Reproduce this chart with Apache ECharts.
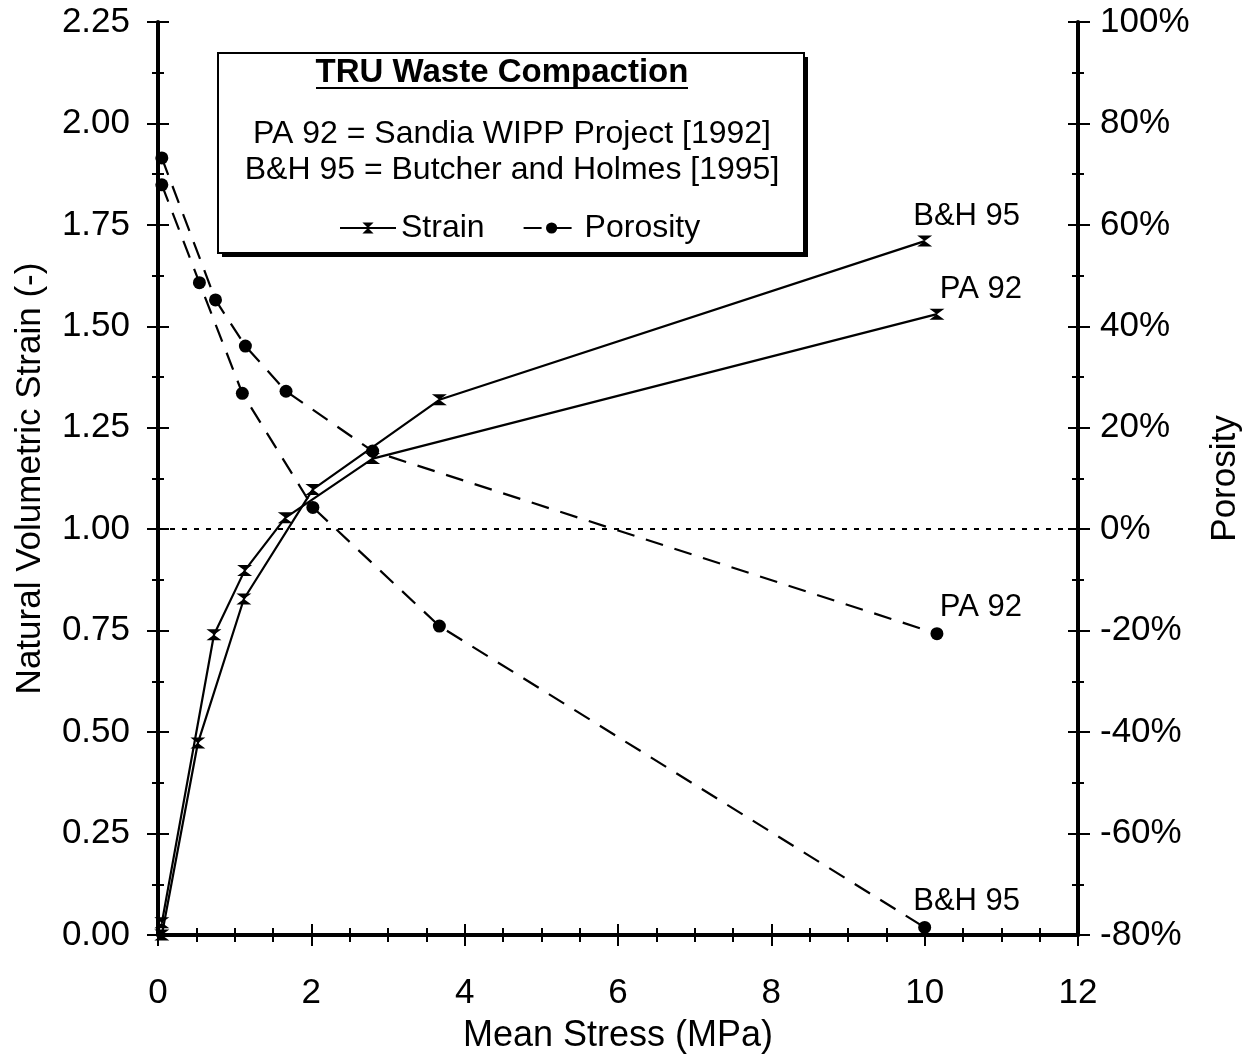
<!DOCTYPE html>
<html>
<head>
<meta charset="utf-8">
<script src="https://cdn.jsdelivr.net/npm/echarts@6/dist/echarts.min.js"></script>
<style>
html,body{margin:0;padding:0;background:#fff;}
#chart{width:1252px;height:1059px;}
</style>
</head>
<body>
<div id="chart"></div>
<script>
// Mean stress (MPa) and values
const strainPA92 = [[0.05, 0.03], [0.73, 0.74], [1.13, 0.898], [1.66, 1.028], [2.80, 1.174], [10.16, 1.53]];
const strainBH95 = [[0.05, 0.00], [0.52, 0.473], [1.12, 0.828], [2.02, 1.098], [3.67, 1.319], [10.0, 1.71]];
const porosityPA92 = [[0.05, 73.2], [0.75, 45.2], [1.14, 36.1], [1.67, 27.2], [2.80, 15.4], [10.16, -20.6]];
const porosityBH95 = [[0.05, 67.9], [0.54, 48.6], [1.10, 26.8], [2.02, 4.3], [3.67, -19.1], [10.0, -78.5]];
const endLabels = { strainPA92: 'PA 92', strainBH95: 'B&H 95', porosityPA92: 'PA 92', porosityBH95: 'B&H 95' };
const zeroPorosityStrain = 1.0;
const legendNames = ['Strain', 'Porosity'];
const boxTitle = 'TRU Waste Compaction';
const boxLines = ['PA 92 = Sandia WIPP Project [1992]', 'B&H 95 = Butcher and Holmes [1995]'];

const FONT = '"Liberation Sans", Arial, Helvetica, sans-serif';
const hourglass = 'path://M0,0 L10,0 L5,5 L10,10 L0,10 L5,5 Z';

function withEndLabel(data, text, offset) {
  return data.map((d, i) => i === data.length - 1 ? {
    value: d,
    label: { show: true, formatter: text, position: 'top', distance: 4, offset: offset,
             fontSize: 31, color: '#000', fontFamily: FONT }
  } : d);
}

const chart = echarts.init(document.getElementById('chart'), null, { renderer: 'canvas' });

const axisLabelStyle = { fontSize: 35, color: '#000', fontFamily: FONT };

const option = {
  animation: false,
  backgroundColor: '#fff',
  grid: { left: 158, right: 174, top: 22, bottom: 122, containLabel: false },
  xAxis: [
    {
      type: 'value', min: 0, max: 12, interval: 2, position: 'bottom',
      name: 'Mean Stress (MPa)', nameLocation: 'middle', nameGap: 83,
      nameTextStyle: { fontSize: 36, color: '#000', fontFamily: FONT },
      axisLine: { show: true, onZero: false, lineStyle: { color: '#000', width: 4 } },
      axisTick: { show: true, inside: false, length: 11, lineStyle: { color: '#000', width: 2 } },
      minorTick: { show: true, splitNumber: 4, length: 7, lineStyle: { color: '#000', width: 2 } },
      axisLabel: Object.assign({ margin: 41 }, axisLabelStyle),
      splitLine: { show: false }
    },
    {
      type: 'value', min: 0, max: 12, interval: 2, position: 'bottom',
      axisLine: { show: false, onZero: false },
      axisTick: { show: true, inside: true, length: 11, lineStyle: { color: '#000', width: 2 } },
      minorTick: { show: true, splitNumber: 4, length: 7, lineStyle: { color: '#000', width: 2 } },
      axisLabel: { show: false }, splitLine: { show: false }
    }
  ],
  yAxis: [
    {
      type: 'value', min: 0, max: 2.25, interval: 0.25, position: 'left',
      name: 'Natural Volumetric Strain (-)', nameLocation: 'middle', nameGap: 110, nameRotate: 90,
      nameTextStyle: { fontSize: 35, color: '#000', fontFamily: FONT },
      axisLine: { show: true, onZero: false, lineStyle: { color: '#000', width: 4 } },
      axisTick: { show: true, inside: false, length: 11, lineStyle: { color: '#000', width: 2 } },
      minorTick: { show: true, splitNumber: 2, length: 6, lineStyle: { color: '#000', width: 2 } },
      axisLabel: Object.assign({ margin: 28, formatter: v => v.toFixed(2) }, axisLabelStyle),
      splitLine: { show: false }
    },
    {
      type: 'value', min: -80, max: 100, interval: 20, position: 'right',
      name: 'Porosity', nameLocation: 'middle', nameGap: 130, nameRotate: 90,
      nameTextStyle: { fontSize: 35, color: '#000', fontFamily: FONT },
      axisLine: { show: true, onZero: false, lineStyle: { color: '#000', width: 4 } },
      axisTick: { show: true, inside: false, length: 12, lineStyle: { color: '#000', width: 2 } },
      minorTick: { show: true, splitNumber: 2, length: 6, lineStyle: { color: '#000', width: 2 } },
      axisLabel: Object.assign({ margin: 22, formatter: '{value}%' }, axisLabelStyle),
      splitLine: { show: false }
    },
    {
      type: 'value', min: 0, max: 2.25, interval: 0.25, position: 'left',
      axisLine: { show: false, onZero: false },
      axisTick: { show: true, inside: true, length: 11, lineStyle: { color: '#000', width: 2 } },
      minorTick: { show: true, splitNumber: 2, length: 6, lineStyle: { color: '#000', width: 2 } },
      axisLabel: { show: false }, splitLine: { show: false }
    },
    {
      type: 'value', min: -80, max: 100, interval: 20, position: 'right',
      axisLine: { show: false, onZero: false },
      axisTick: { show: true, inside: true, length: 10, lineStyle: { color: '#000', width: 2 } },
      minorTick: { show: true, splitNumber: 2, length: 6, lineStyle: { color: '#000', width: 2 } },
      axisLabel: { show: false }, splitLine: { show: false }
    }
  ],
  legend: {
    data: legendNames, left: 334, top: 207, itemWidth: 56, itemHeight: 14, itemGap: 38,
    textStyle: { fontSize: 32, color: '#000', fontFamily: FONT },
    inactiveColor: '#000', selectedMode: false
  },
  graphic: [
    { type: 'rect', z: 0, shape: { x: 222, y: 57, width: 586, height: 200 }, style: { fill: '#000' } },
    { type: 'rect', z: 1, shape: { x: 218, y: 53, width: 586, height: 200 },
      style: { fill: '#fff', stroke: '#000', lineWidth: 2 } },
    { type: 'text', z: 2, style: { x: 502, y: 73, text: boxTitle, fontSize: 33, fontWeight: 'bold',
      fontFamily: FONT, fill: '#000', align: 'center', verticalAlign: 'middle' } },
    { type: 'line', z: 2, shape: { x1: 316, y1: 88, x2: 688, y2: 88 }, style: { stroke: '#000', lineWidth: 2 } },
    { type: 'text', z: 2, style: { x: 512, y: 134, text: boxLines[0], fontSize: 32,
      fontFamily: FONT, fill: '#000', align: 'center', verticalAlign: 'middle' } },
    { type: 'text', z: 2, style: { x: 512, y: 170, text: boxLines[1], fontSize: 32,
      fontFamily: FONT, fill: '#000', align: 'center', verticalAlign: 'middle' } }
  ],
  series: [
    {
      name: 'Strain', type: 'line', xAxisIndex: 0, yAxisIndex: 0, z: 5,
      data: withEndLabel(strainPA92, endLabels.strainPA92, [44, 0]),
      symbol: hourglass, symbolSize: [15, 11], color: '#000',
      itemStyle: { color: '#000' }, lineStyle: { color: '#000', width: 2.2, type: 'solid' },
      markLine: {
        silent: true, symbol: 'none', label: { show: false },
        lineStyle: { color: '#000', width: 2, type: [5, 7] },
        data: [{ yAxis: zeroPorosityStrain }]
      }
    },
    {
      name: 'Strain', type: 'line', xAxisIndex: 0, yAxisIndex: 0, z: 5,
      data: withEndLabel(strainBH95, endLabels.strainBH95, [42, 0]),
      symbol: hourglass, symbolSize: [15, 11], color: '#000',
      itemStyle: { color: '#000' }, lineStyle: { color: '#000', width: 2.2, type: 'solid' }
    },
    {
      name: 'Porosity', type: 'line', xAxisIndex: 0, yAxisIndex: 1, z: 4,
      data: withEndLabel(porosityPA92, endLabels.porosityPA92, [44, 0]),
      symbol: 'circle', symbolSize: 13, color: '#000',
      itemStyle: { color: '#000' }, lineStyle: { color: '#000', width: 2.2, type: [18, 12] }
    },
    {
      name: 'Porosity', type: 'line', xAxisIndex: 0, yAxisIndex: 1, z: 4,
      data: withEndLabel(porosityBH95, endLabels.porosityBH95, [42, 0]),
      symbol: 'circle', symbolSize: 13, color: '#000',
      itemStyle: { color: '#000' }, lineStyle: { color: '#000', width: 2.2, type: [18, 12] }
    }
  ]
};
chart.setOption(option);
</script>
</body>
</html>
